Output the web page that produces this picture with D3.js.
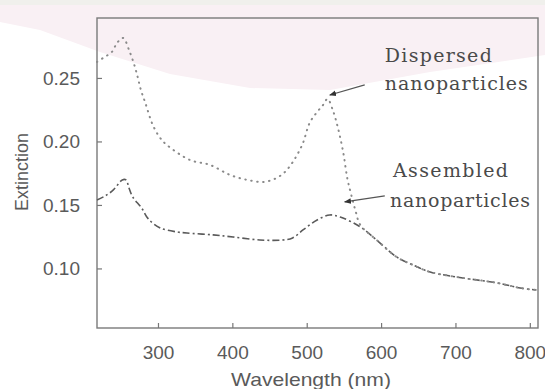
<!DOCTYPE html>
<html>
<head>
<meta charset="utf-8">
<script src="https://cdn.jsdelivr.net/npm/d3@7"></script>
<style>
  html, body { margin: 0; padding: 0; background: #ffffff; }
  svg { display: block; }
</style>
</head>
<body>
<svg id="chart" width="545" height="389"></svg>
<script>
// ---- Data ----
const dispersedWavelength = [218, 226, 238, 245, 253, 262, 269, 273, 277, 283, 293, 303, 312, 343, 370, 397, 420, 441, 455, 468, 478, 487, 495, 504, 514, 522, 528, 535, 542, 549, 555, 561, 566, 572, 594, 621, 643, 666, 710, 756, 787, 809];
const dispersedExtinction = [0.2626, 0.2657, 0.2705, 0.2776, 0.2815, 0.2705, 0.2587, 0.2500, 0.2406, 0.2303, 0.2130, 0.2027, 0.1972, 0.1854, 0.1815, 0.1736, 0.1697, 0.1681, 0.1700, 0.1745, 0.1810, 0.1894, 0.1988, 0.2146, 0.2232, 0.2287, 0.2335, 0.2248, 0.2106, 0.1917, 0.1697, 0.1555, 0.1445, 0.1343, 0.1224, 0.1090, 0.1027, 0.0972, 0.0925, 0.0886, 0.0846, 0.0830];

const assembledWavelength = [218, 229, 240, 252, 257, 261, 266, 278, 287, 303, 326, 339, 374, 401, 437, 468, 481, 495, 514, 531, 545, 572, 594, 621, 643, 666, 710, 756, 787, 809];
const assembledExtinction = [0.1539, 0.1571, 0.1618, 0.1697, 0.1697, 0.1634, 0.1563, 0.1476, 0.1390, 0.1319, 0.1287, 0.1279, 0.1264, 0.1248, 0.1224, 0.1224, 0.1240, 0.1303, 0.1382, 0.1421, 0.1405, 0.1327, 0.1224, 0.1090, 0.1027, 0.0972, 0.0925, 0.0886, 0.0846, 0.0830];

const xTickValues = [300, 400, 500, 600, 700, 800];
const yTickValues = [0.10, 0.15, 0.20, 0.25];
const yTickLabels = ["0.10", "0.15", "0.20", "0.25"];

const xTitle = "Wavelength (nm)";
const yTitle = "Extinction";

// annotations: label lines and arrow (tail -> tip) in data units
const annotationLines = [
  { text: "Dispersed",     w: 605, v: 0.2627, len: 107 },
  { text: "nanoparticles", w: 605, v: 0.2406, len: 143 },
  { text: "Assembled",     w: 616, v: 0.1722, len: 115 },
  { text: "nanoparticles", w: 612, v: 0.1486, len: 140 }
];
const annotationArrows = [
  { w0: 578, v0: 0.2445, w1: 531, v1: 0.2366 },
  { w0: 605, v0: 0.1571, w1: 551, v1: 0.1524 }
];

// ---- Layout ----
const svg = d3.select("#chart");
const W = 545, H = 389;
const plot = { left: 97, right: 538, top: 18, bottom: 328 };

// faint scan-like tint at top
svg.append("path")
  .attr("d", "M0,0 L545,0 L545,55 L430,72 L330,90 L250,88 L170,74 L100,52 L40,30 L0,22 Z")
  .attr("fill", "#f9f0f4");
svg.append("rect").attr("x", 0).attr("y", 0).attr("width", W).attr("height", 5).attr("fill", "#f0f0ec");

const x = d3.scaleLinear().domain([218, 811]).range([plot.left, plot.right]);
const y = d3.scaleLinear().domain([0.0531, 0.2972]).range([plot.bottom, plot.top]);

// frame
svg.append("rect")
  .attr("x", plot.left).attr("y", plot.top)
  .attr("width", plot.right - plot.left).attr("height", plot.bottom - plot.top)
  .attr("fill", "none").attr("stroke", "#7a7a7a").attr("stroke-width", 1.4);

const tickFont = "'Liberation Sans', Arial, Helvetica, sans-serif";

// bottom axis
const gx = svg.append("g")
  .attr("transform", `translate(0,${plot.bottom})`)
  .call(d3.axisBottom(x).tickValues(xTickValues).tickFormat(d3.format("d"))
        .tickSizeInner(-5).tickSizeOuter(0).tickPadding(17.5));
gx.select(".domain").remove();
gx.selectAll("line").attr("stroke", "#777").attr("stroke-width", 1.2);
gx.selectAll("text").attr("font-family", tickFont).attr("font-size", 19).attr("fill", "#5a5a5a");

// left axis
const gy = svg.append("g")
  .attr("transform", `translate(${plot.left},0)`)
  .call(d3.axisLeft(y).tickValues(yTickValues).tickFormat((d, i) => yTickLabels[i])
        .tickSizeInner(-5).tickSizeOuter(0).tickPadding(17));
gy.select(".domain").remove();
gy.selectAll("line").attr("stroke", "#777").attr("stroke-width", 1.2);
gy.selectAll("text").attr("font-family", tickFont).attr("font-size", 19).attr("fill", "#5a5a5a");

// axis titles
svg.append("text")
  .attr("x", 311).attr("y", 386)
  .attr("text-anchor", "middle")
  .attr("font-family", tickFont).attr("font-size", 19).attr("fill", "#5a5a5a")
  .attr("textLength", 160).attr("lengthAdjust", "spacingAndGlyphs")
  .text(xTitle);

svg.append("text")
  .attr("transform", "translate(28,172) rotate(-90)")
  .attr("text-anchor", "middle")
  .attr("font-family", tickFont).attr("font-size", 18).attr("fill", "#5a5a5a")
  .text(yTitle);

// curves
const line = d3.line().curve(d3.curveCatmullRom.alpha(0.5));

const dispersedPts = dispersedWavelength.map((w, i) => [x(w), y(dispersedExtinction[i])]);
const assembledPts = assembledWavelength.map((w, i) => [x(w), y(assembledExtinction[i])]);

svg.append("path")
  .attr("d", line(assembledPts))
  .attr("fill", "none")
  .attr("stroke", "#5a5a5a")
  .attr("stroke-width", 1.6)
  .attr("stroke-dasharray", "7,3,2,3");

svg.append("path")
  .attr("d", line(dispersedPts))
  .attr("fill", "none")
  .attr("stroke", "#8a8a8a")
  .attr("stroke-width", 2)
  .attr("stroke-linecap", "round")
  .attr("stroke-dasharray", "0.5,5.5");

// annotations
const serifFont = "'DejaVu Serif', 'Liberation Serif', serif";
svg.selectAll("text.annot")
  .data(annotationLines)
  .enter().append("text")
  .attr("class", "annot")
  .attr("x", d => x(d.w)).attr("y", d => y(d.v))
  .attr("font-family", serifFont).attr("font-size", 19).attr("fill", "#4a4a4a")
  .attr("textLength", d => d.len).attr("lengthAdjust", "spacing")
  .text(d => d.text);

svg.append("defs").append("marker")
  .attr("id", "ah").attr("viewBox", "0 0 10 10")
  .attr("refX", 9).attr("refY", 5)
  .attr("markerWidth", 7).attr("markerHeight", 7)
  .attr("markerUnits", "userSpaceOnUse")
  .attr("orient", "auto")
  .append("path").attr("d", "M0,1 L10,5 L0,9 Z").attr("fill", "#333");

svg.selectAll("line.arrow")
  .data(annotationArrows)
  .enter().append("line")
  .attr("class", "arrow")
  .attr("x1", d => x(d.w0)).attr("y1", d => y(d.v0))
  .attr("x2", d => x(d.w1)).attr("y2", d => y(d.v1))
  .attr("stroke", "#555").attr("stroke-width", 1.2)
  .attr("marker-end", "url(#ah)");
</script>
</body>
</html>
